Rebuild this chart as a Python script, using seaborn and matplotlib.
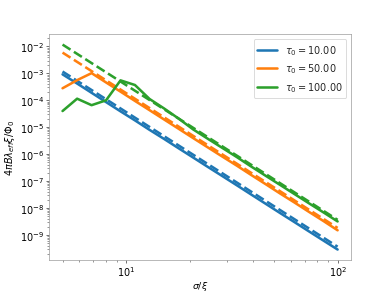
import matplotlib
matplotlib.use("Agg")
import matplotlib.pyplot as plt
import numpy as np
import pandas as pd
import seaborn as sns

# sigma / xi sample points
x = [5.0, 5.86, 6.86, 8.03, 9.40, 11.0, 12.9, 15.1, 17.7, 20.7,
     24.3, 28.4, 33.3, 39.0, 45.6, 53.4, 62.6, 73.3, 85.8, 100.0]

# numerical results (solid)
y_tau10 = [9.2e-4, 4.2e-4, 1.9e-4, 8.6e-5, 3.9e-5, 1.8e-5, 8.0e-6, 3.7e-6, 1.66e-6, 7.6e-7,
           3.4e-7, 1.57e-7, 7.1e-8, 3.2e-8, 1.46e-8, 6.6e-9, 3.0e-9, 1.36e-9, 6.2e-10, 2.9e-10]
y_tau50 = [2.8e-4, 5.6e-4, 1.02e-3, 4.6e-4, 2.1e-4, 9.5e-5, 4.3e-5, 1.95e-5, 8.8e-6, 4.0e-6,
           1.8e-6, 8.3e-7, 3.8e-7, 1.7e-7, 7.8e-8, 3.5e-8, 1.6e-8, 7.2e-9, 3.3e-9, 1.5e-9]
y_tau100 = [4.0e-5, 1.15e-4, 6.6e-5, 1.0e-4, 5.5e-4, 3.7e-4, 1.12e-4, 5.0e-5, 2.1e-5, 8.4e-6,
            3.76e-6, 1.74e-6, 7.9e-7, 3.5e-7, 1.6e-7, 7.3e-8, 3.3e-8, 1.5e-8, 6.9e-9, 3.2e-9]

# asymptotic power law (dashed), end points only
x_fit = [5.0, 100.0]
fit_tau10 = [1.17e-3, 3.7e-10]
fit_tau50 = [5.9e-3, 1.84e-9]
fit_tau100 = [1.17e-2, 3.67e-9]

labels = [r"$\tau_0 = 10.00$", r"$\tau_0 = 50.00$", r"$\tau_0 = 100.00$"]

sns.set_style("white")
plt.rcParams["font.family"] = ["DejaVu Sans"]
plt.rcParams["axes.edgecolor"] = "#999999"
plt.rcParams["xtick.bottom"] = True
plt.rcParams["ytick.left"] = True
for ax_name in ("xtick", "ytick"):
    plt.rcParams[ax_name + ".color"] = "#333333"
    plt.rcParams[ax_name + ".labelcolor"] = "black"
    plt.rcParams[ax_name + ".major.size"] = 3.5
    plt.rcParams[ax_name + ".minor.size"] = 2
    plt.rcParams[ax_name + ".major.pad"] = 2.5
    plt.rcParams[ax_name + ".minor.pad"] = 2.5
plt.rcParams["axes.labelcolor"] = "black"

fig, ax = plt.subplots(figsize=(6.4, 4.8), dpi=61)
colors = sns.color_palette("tab10")

for i, (ys, fit) in enumerate([(y_tau10, fit_tau10), (y_tau50, fit_tau50), (y_tau100, fit_tau100)]):
    sns.lineplot(x=x, y=ys, ax=ax, color=colors[i], lw=3, label=labels[i])
    sns.lineplot(x=x_fit, y=fit, ax=ax, color=colors[i], lw=3, linestyle="--", label="_nolegend_")

ax.set_xscale("log")
ax.set_yscale("log")
ax.set_xlabel(r"$\sigma/\xi$", fontsize=11, labelpad=1)
ax.set_ylabel(r"$4\pi B\lambda_{eff}\xi/\Phi_0$", fontsize=11.5, labelpad=3)
ax.tick_params(labelsize=11.5)
ax.legend(loc="upper right", fontsize=11.5)

fig.savefig("out.png", dpi=61)
